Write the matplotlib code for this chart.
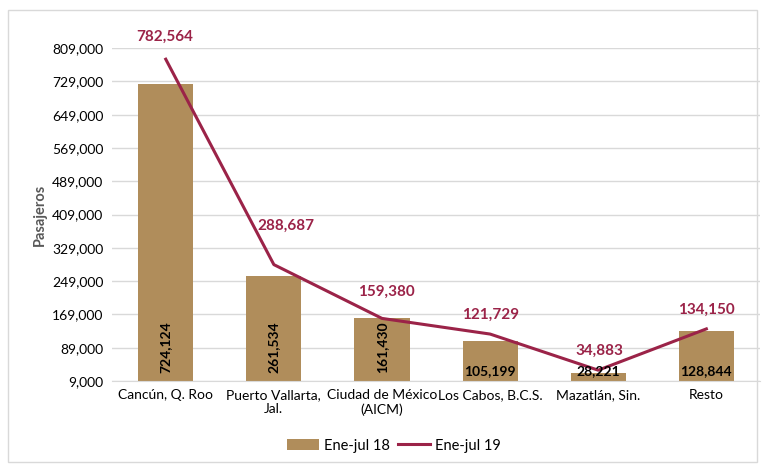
import matplotlib
matplotlib.use("Agg")
import matplotlib.pyplot as plt
from matplotlib.patches import Rectangle
import numpy as np

plt.rcParams['font.family'] = ['Lato', 'DejaVu Sans']

categorias = ['Cancún, Q. Roo', 'Puerto Vallarta,\nJal.', 'Ciudad de México\n(AICM)',
              'Los Cabos, B.C.S.', 'Mazatlán, Sin.', 'Resto']
ene_jul_18 = [724124, 261534, 161430, 105199, 28221, 128844]
ene_jul_19 = [782564, 288687, 159380, 121729, 34883, 134150]
yticks = np.arange(9000, 809001, 80000)

bar_color = '#B08D5B'
line_color = '#9B2348'

# desplazamiento de etiquetas de la linea (puntos)
lbl_off = [(-1, 16), (9, 28), (3, 19), (0, 14), (1, 14), (0, 14)]

fig = plt.figure(figsize=(7.65, 4.68), dpi=100)
ax = fig.add_axes([0.146, 0.186, 0.848, 0.711])

x = np.arange(len(categorias))
barras = ax.bar(x, ene_jul_18, width=0.51, color=bar_color, label='Ene-jul 18', zorder=2)
linea, = ax.plot(x, ene_jul_19, color=line_color, lw=2.2, label='Ene-jul 19', zorder=3)

for i, v in enumerate(ene_jul_18):
    if i < 3:
        ax.annotate(f'{v:,}', (x[i], 9000), xytext=(0, 6), textcoords='offset points',
                    rotation=90, ha='center', va='bottom', fontsize=10,
                    fontweight='bold', color='black', zorder=4)
    else:
        ax.annotate(f'{v:,}', (x[i], 9000), xytext=(0, 3), textcoords='offset points',
                    ha='center', va='bottom', fontsize=10,
                    fontweight='bold', color='black', zorder=4)

for i, v in enumerate(ene_jul_19):
    ax.annotate(f'{v:,}', xy=(x[i], v), xytext=lbl_off[i], textcoords='offset points',
                ha='center', va='center', fontsize=11, fontweight='bold',
                color=line_color, annotation_clip=False, zorder=5)

ax.set_ylim(9000, 809000)
ax.set_xlim(-0.5, len(categorias) - 0.5)
ax.set_yticks(yticks)
ax.set_yticklabels([f'{t:,}' for t in yticks], fontsize=10)
ax.set_xticks(x)
ax.set_xticklabels(categorias, fontsize=10)
ax.tick_params(length=0, pad=6)
ax.yaxis.grid(True, color='#D9D9D9', lw=1, zorder=0)
ax.set_axisbelow(True)
for s in ['top', 'right', 'left']:
    ax.spines[s].set_visible(False)
ax.spines['bottom'].set_color('#D9D9D9')

ax.set_ylabel('Pasajeros', fontsize=10.5, fontweight='bold', color='#595959', labelpad=4)

fig.legend([barras, linea], ['Ene-jul 18', 'Ene-jul 19'], loc='lower center',
           bbox_to_anchor=(0.515, 0.005), ncol=2, frameon=False,
           fontsize=10.5, handlelength=2.2, columnspacing=0.6, handletextpad=0.3)

fig.patches.append(Rectangle((0.011, 0.013), 0.978, 0.965, transform=fig.transFigure,
                             fill=False, edgecolor='#D9D9D9', lw=1))

fig.savefig('out.png', dpi=100)
